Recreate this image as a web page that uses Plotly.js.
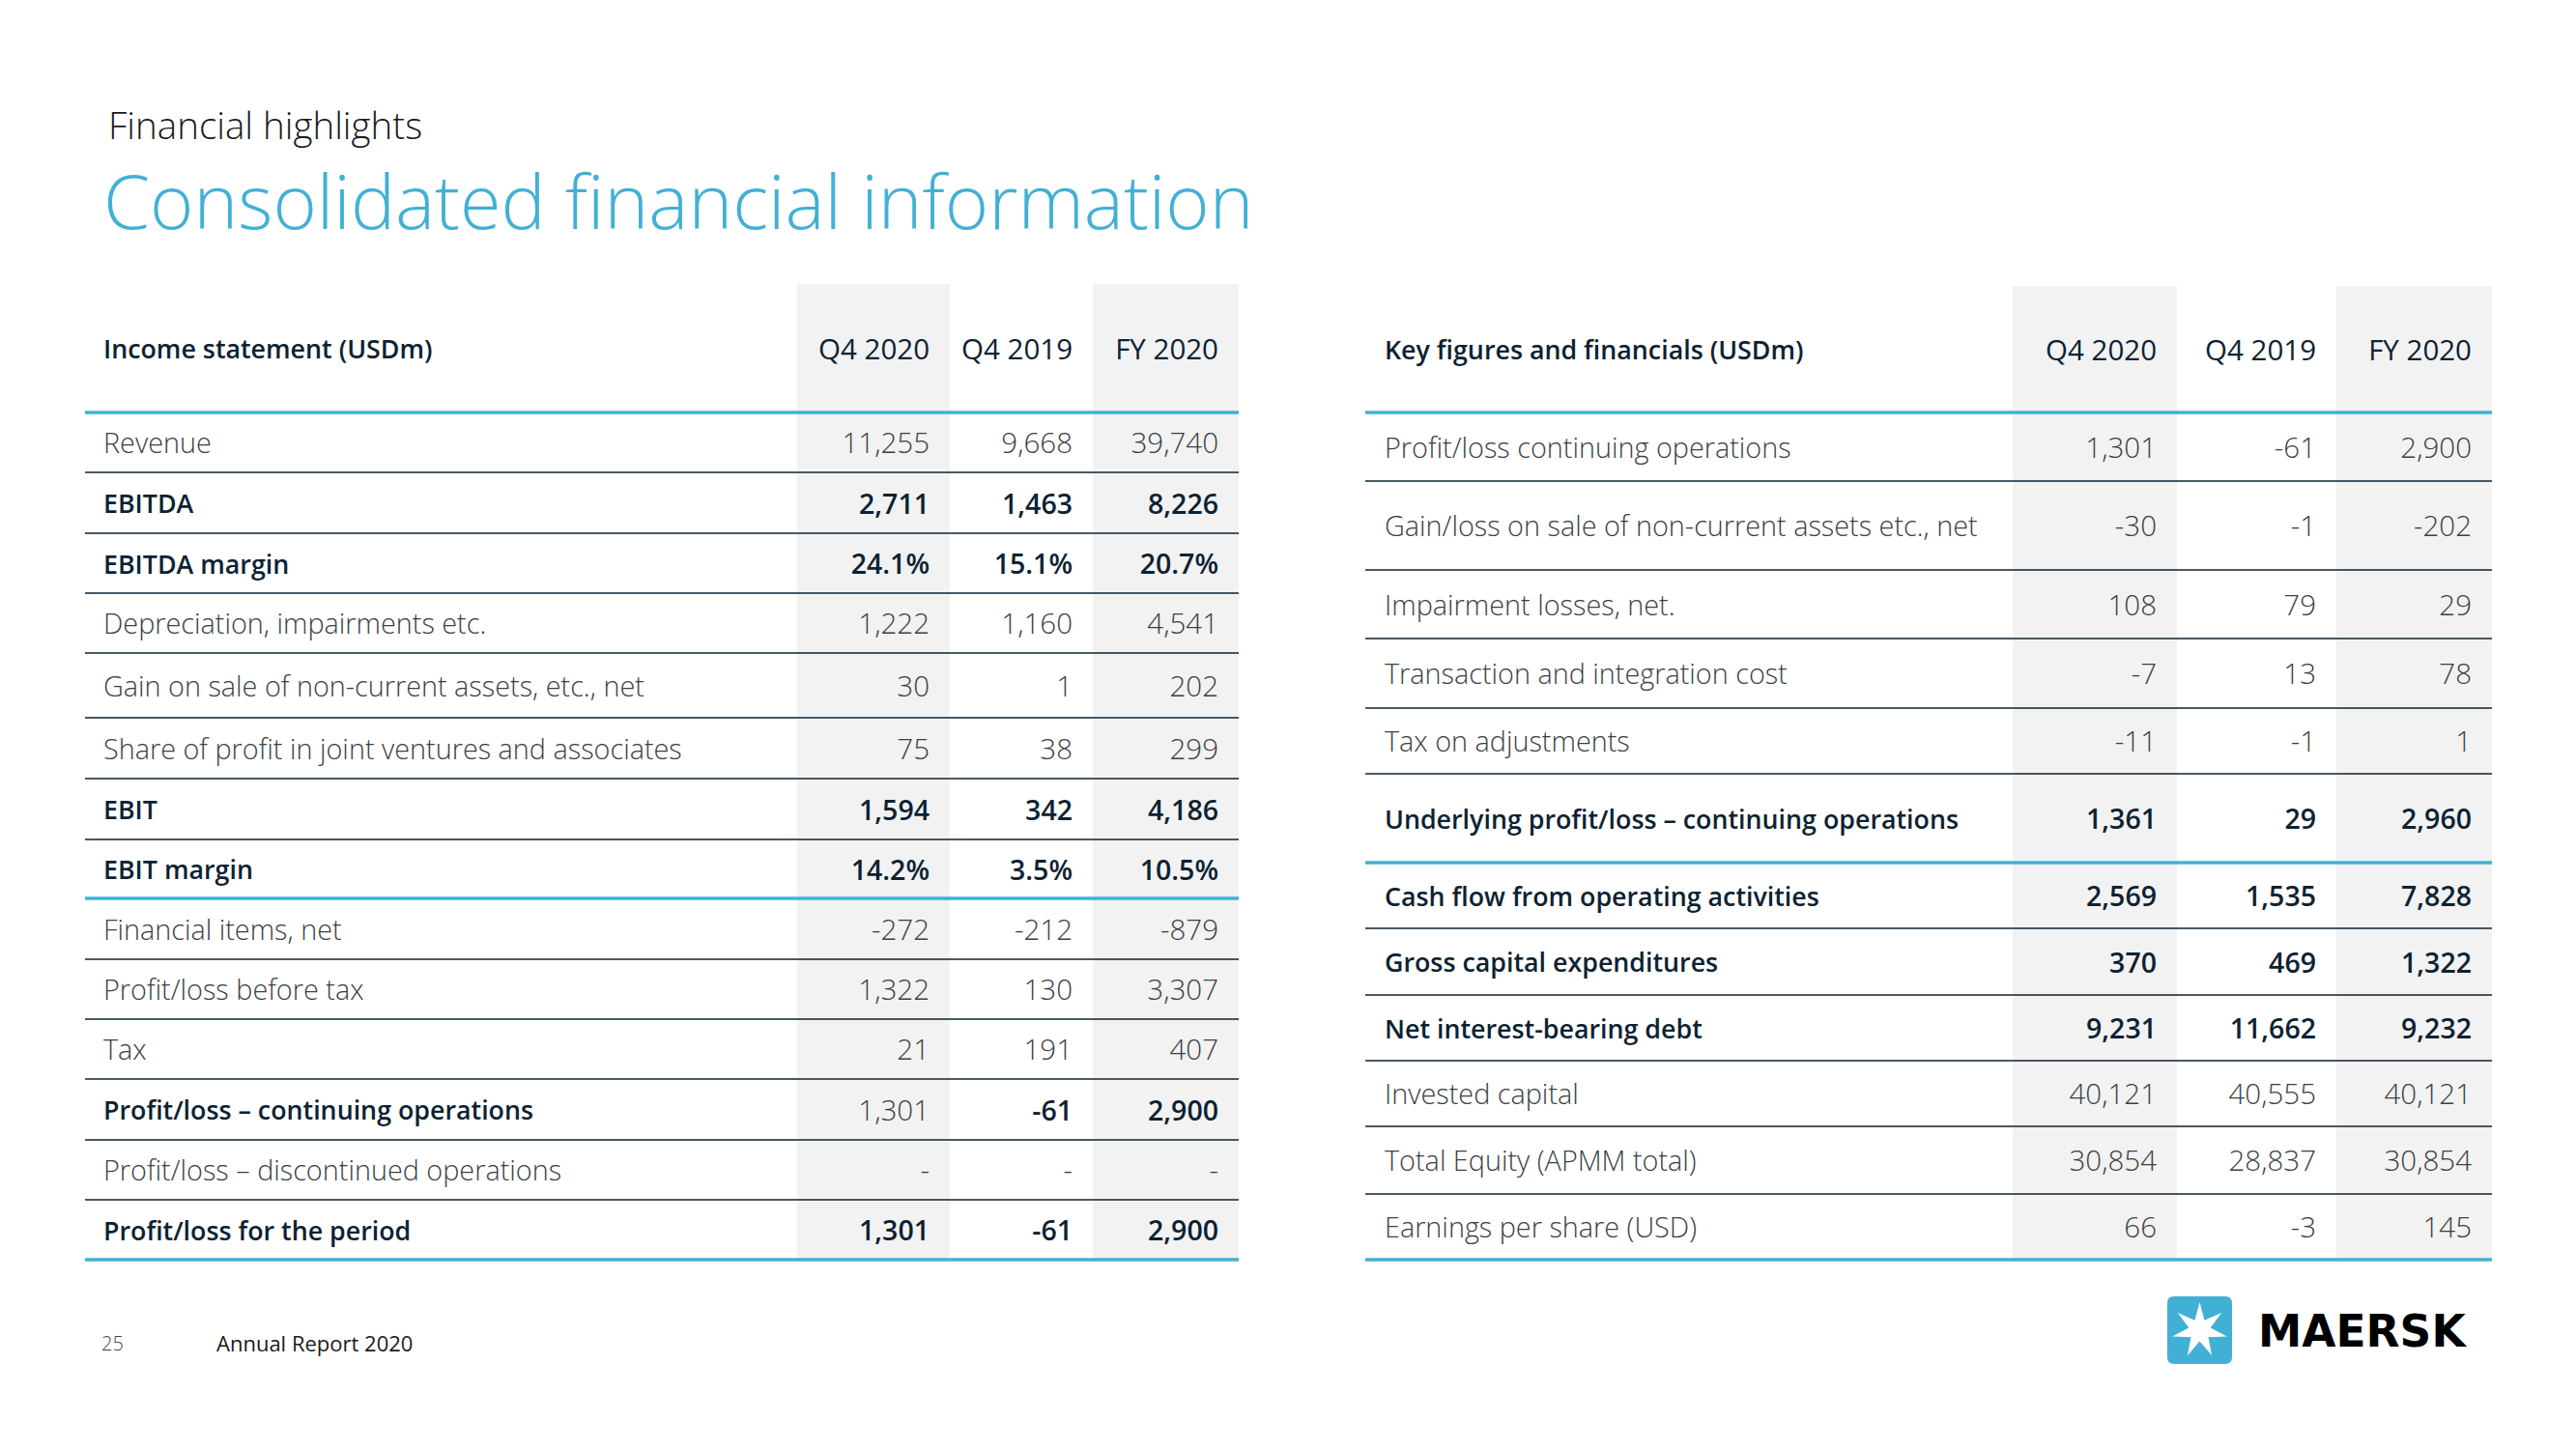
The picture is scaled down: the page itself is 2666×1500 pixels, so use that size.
<!DOCTYPE html>
<html>
<head>
<meta charset="utf-8">
<script src="https://cdn.plot.ly/plotly-3.0.1.min.js"></script>
<style>
html,body{margin:0;padding:0;background:#ffffff;overflow:hidden}
#chart{width:2666px;height:1500px}
</style>
</head>
<body>
<div id="chart"></div>
<script>
// ================= DATA =================
const pageSubtitle = "Financial highlights";
const pageTitle = "Consolidated financial information";
const columnLabels = ["Q4 2020", "Q4 2019", "FY 2020"];

const incomeTitle = "Income statement (USDm)";
const incomeLabels = [
  "Revenue",
  "EBITDA",
  "EBITDA margin",
  "Depreciation, impairments etc.",
  "Gain on sale of non-current assets, etc., net",
  "Share of profit in joint ventures and associates",
  "EBIT",
  "EBIT margin",
  "Financial items, net",
  "Profit/loss before tax",
  "Tax",
  "Profit/loss \u2013 continuing operations",
  "Profit/loss \u2013 discontinued operations",
  "Profit/loss for the period"
];
const incomeQ4_2020 = [11255, 2711, 24.1, 1222, 30, 75, 1594, 14.2, -272, 1322, 21, 1301, null, 1301];
const incomeQ4_2019 = [9668, 1463, 15.1, 1160, 1, 38, 342, 3.5, -212, 130, 191, -61, null, -61];
const incomeFY_2020 = [39740, 8226, 20.7, 4541, 202, 299, 4186, 10.5, -879, 3307, 407, 2900, null, 2900];
const incomeIsPercent = [false, false, true, false, false, false, false, true, false, false, false, false, false, false];

const keyTitle = "Key figures and financials (USDm)";
const keyLabels = [
  "Profit/loss continuing operations",
  "Gain/loss on sale of non-current assets etc., net",
  "Impairment losses, net.",
  "Transaction and integration cost",
  "Tax on adjustments",
  "Underlying profit/loss \u2013 continuing operations",
  "Cash flow from operating activities",
  "Gross capital expenditures",
  "Net interest-bearing debt",
  "Invested capital",
  "Total Equity (APMM total)",
  "Earnings per share (USD)"
];
const keyQ4_2020 = [1301, -30, 108, -7, -11, 1361, 2569, 370, 9231, 40121, 30854, 66];
const keyQ4_2019 = [-61, -1, 79, 13, -1, 29, 1535, 469, 11662, 40555, 28837, -3];
const keyFY_2020 = [2900, -202, 29, 78, 1, 2960, 7828, 1322, 9232, 40121, 30854, 145];
const keyIsPercent = keyLabels.map(() => false);

const footerPage = "25";
const footerText = "Annual Report 2020";
const brandName = "MAERSK";

// ================= STYLE / LAYOUT =================
const FONT = "Open Sans, Noto Sans, sans-serif";
const BLUE = "#42B0D5";
const DARK = "#0c2232";
const LIGHT_TEXT = "#3b3f44";
const GREY_FILL = "#F2F2F2";

const STYLE = {
  labelLight: { size: 28.8, weight: 300, color: LIGHT_TEXT },
  labelBold:  { size: 26.8, weight: 580, color: DARK },
  valueLight: { size: 29.5, weight: 300, color: LIGHT_TEXT },
  valueBold:  { size: 28.5, weight: 600, color: DARK },
  headTitle:  { size: 26.8, weight: 580, color: DARK },
  headCol:    { size: 29.5, weight: 520, color: DARK }
};

// bold flags per row: [label, col1, col2, col3]
const incomeBold = [
  [0,0,0,0],[1,1,1,1],[1,1,1,1],[0,0,0,0],[0,0,0,0],[0,0,0,0],[1,1,1,1],
  [1,1,1,1],[0,0,0,0],[0,0,0,0],[0,0,0,0],[1,0,1,1],[0,0,0,0],[1,1,1,1]
];
const keyBold = [
  [0,0,0,0],[0,0,0,0],[0,0,0,0],[0,0,0,0],[0,0,0,0],[1,1,1,1],
  [1,1,1,1],[1,1,1,1],[1,1,1,1],[0,0,0,0],[0,0,0,0],[0,0,0,0]
];

const LEFT_GEOM = {
  x0: 88, x1: 1282, labelX: 107,
  colEdges: [825, 983, 1131, 1282], greyCols: [0, 2],
  top: 294, headerBottom: 427,
  rowHeights: [62, 63, 62, 62, 67, 63, 63, 61, 63, 62, 62, 63, 62, 62],
  blueAfter: [7]
};
const RIGHT_GEOM = {
  x0: 1413, x1: 2579, labelX: 1433,
  colEdges: [2083, 2253, 2418, 2579], greyCols: [0, 2],
  top: 296, headerBottom: 427,
  rowHeights: [71, 92, 71, 72, 68, 92, 68, 69, 68, 68, 70, 68],
  blueAfter: [5]
};
const VALUE_PAD = 21;
const TEXT_DY = 4;

function fmt(v, pct) {
  if (v === null || v === undefined) return "-";
  if (pct) return v.toFixed(1) + "%";
  return v.toLocaleString("en-US");
}

const traces = [];
const shapes = [];
const annotations = [];

function textTrace(xs, ys, texts, pos, st) {
  return {
    type: "scatter", mode: "text",
    x: xs, y: ys, text: texts, textposition: pos,
    textfont: { family: FONT, size: st.size, color: st.color, weight: st.weight },
    hoverinfo: "skip", showlegend: false, cliponaxis: false
  };
}

function buildTable(g, title, labels, cols, isPct, bold) {
  const bounds = [g.headerBottom];
  g.rowHeights.forEach(h => bounds.push(bounds[bounds.length - 1] + h));
  const bottom = bounds[bounds.length - 1];
  const centers = g.rowHeights.map((h, i) => (bounds[i] + bounds[i + 1]) / 2 + TEXT_DY);

  // grey columns
  g.greyCols.forEach(ci => {
    shapes.push({ type: "rect", xref: "x", yref: "y", layer: "below",
      x0: g.colEdges[ci], x1: g.colEdges[ci + 1], y0: g.top, y1: bottom,
      fillcolor: GREY_FILL, line: { width: 0 } });
  });

  // separators
  bounds.forEach((y, i) => {
    const isBlue = i === 0 || i === bounds.length - 1 || g.blueAfter.indexOf(i - 1) !== -1;
    shapes.push({ type: "line", xref: "x", yref: "y", layer: "above",
      x0: g.x0, x1: g.x1, y0: y, y1: y,
      line: { color: isBlue ? BLUE : DARK, width: isBlue ? 3.5 : 1.6 } });
  });

  // header
  const headerY = (g.top + g.headerBottom) / 2 + TEXT_DY;
  traces.push(textTrace([g.labelX], [headerY], [title], "middle right", STYLE.headTitle));
  traces.push(textTrace(columnLabels.map((_, c) => g.colEdges[c + 1] - VALUE_PAD),
    columnLabels.map(() => headerY), columnLabels, "middle left", STYLE.headCol));

  // labels
  [0, 1].forEach(b => {
    const xs = [], ys = [], ts = [];
    labels.forEach((l, r) => { if (bold[r][0] === b) { xs.push(g.labelX); ys.push(centers[r]); ts.push(l); } });
    if (xs.length) traces.push(textTrace(xs, ys, ts, "middle right", b ? STYLE.labelBold : STYLE.labelLight));
  });
  // values
  cols.forEach((vals, c) => {
    [0, 1].forEach(b => {
      const xs = [], ys = [], ts = [];
      vals.forEach((v, r) => {
        if (bold[r][c + 1] === b) { xs.push(g.colEdges[c + 1] - VALUE_PAD); ys.push(centers[r]); ts.push(fmt(v, isPct[r])); }
      });
      if (xs.length) traces.push(textTrace(xs, ys, ts, "middle left", b ? STYLE.valueBold : STYLE.valueLight));
    });
  });
}

buildTable(LEFT_GEOM, incomeTitle, incomeLabels, [incomeQ4_2020, incomeQ4_2019, incomeFY_2020], incomeIsPercent, incomeBold);
buildTable(RIGHT_GEOM, keyTitle, keyLabels, [keyQ4_2020, keyQ4_2019, keyFY_2020], keyIsPercent, keyBold);

// page titles
annotations.push({ xref: "x", yref: "y", x: 110, y: 129, xanchor: "left", yanchor: "middle", showarrow: false,
  text: pageSubtitle, font: { family: FONT, size: 38.5, color: "#1a1a1a", weight: 300 } });
annotations.push({ xref: "x", yref: "y", x: 105, y: 207, xanchor: "left", yanchor: "middle", showarrow: false,
  text: pageTitle, font: { family: FONT, size: 77.5, color: BLUE, weight: 300 } });

// footer
annotations.push({ xref: "x", yref: "y", x: 103, y: 1390, xanchor: "left", yanchor: "middle", showarrow: false,
  text: footerPage, font: { family: FONT, size: 20, color: "#444444", weight: 300 } });
annotations.push({ xref: "x", yref: "y", x: 222, y: 1390, xanchor: "left", yanchor: "middle", showarrow: false,
  text: footerText, font: { family: FONT, size: 22, color: "#1a1a1a" } });

// logo
function roundedRectPath(x0, y0, x1, y1, r) {
  return `M ${x0 + r},${y0} L ${x1 - r},${y0} Q ${x1},${y0} ${x1},${y0 + r} L ${x1},${y1 - r} Q ${x1},${y1} ${x1 - r},${y1} ` +
         `L ${x0 + r},${y1} Q ${x0},${y1} ${x0},${y1 - r} L ${x0},${y0 + r} Q ${x0},${y0} ${x0 + r},${y0} Z`;
}
function starPath(cx, cy, R, r, n) {
  let p = "";
  for (let i = 0; i < 2 * n; i++) {
    const a = -Math.PI / 2 + i * Math.PI / n;
    const rad = i % 2 === 0 ? R : r;
    p += (i === 0 ? "M " : " L ") + (cx + rad * Math.cos(a)).toFixed(2) + "," + (cy + rad * Math.sin(a)).toFixed(2);
  }
  return p + " Z";
}
shapes.push({ type: "path", xref: "x", yref: "y", path: roundedRectPath(2243, 1342, 2310, 1412, 7),
  fillcolor: BLUE, line: { width: 0 } });
shapes.push({ type: "path", xref: "x", yref: "y", path: starPath(2276.5, 1377, 29, 11.5, 7),
  fillcolor: "#ffffff", line: { width: 0 } });
annotations.push({ xref: "x", yref: "y", x: 2335, y: 1378, xanchor: "left", yanchor: "middle", showarrow: false,
  text: "<b>" + brandName + "</b>", font: { family: "DejaVu Sans, sans-serif", size: 45.5, color: "#000000" } });

const layout = {
  width: 2666, height: 1500,
  margin: { l: 0, r: 0, t: 0, b: 0, pad: 0 },
  paper_bgcolor: "#ffffff", plot_bgcolor: "#ffffff",
  xaxis: { range: [0, 2666], visible: false, fixedrange: true },
  yaxis: { range: [1500, 0], visible: false, fixedrange: true },
  showlegend: false,
  shapes: shapes,
  annotations: annotations
};

Plotly.newPlot("chart", traces, layout, { staticPlot: true, displayModeBar: false });
</script>
</body>
</html>
